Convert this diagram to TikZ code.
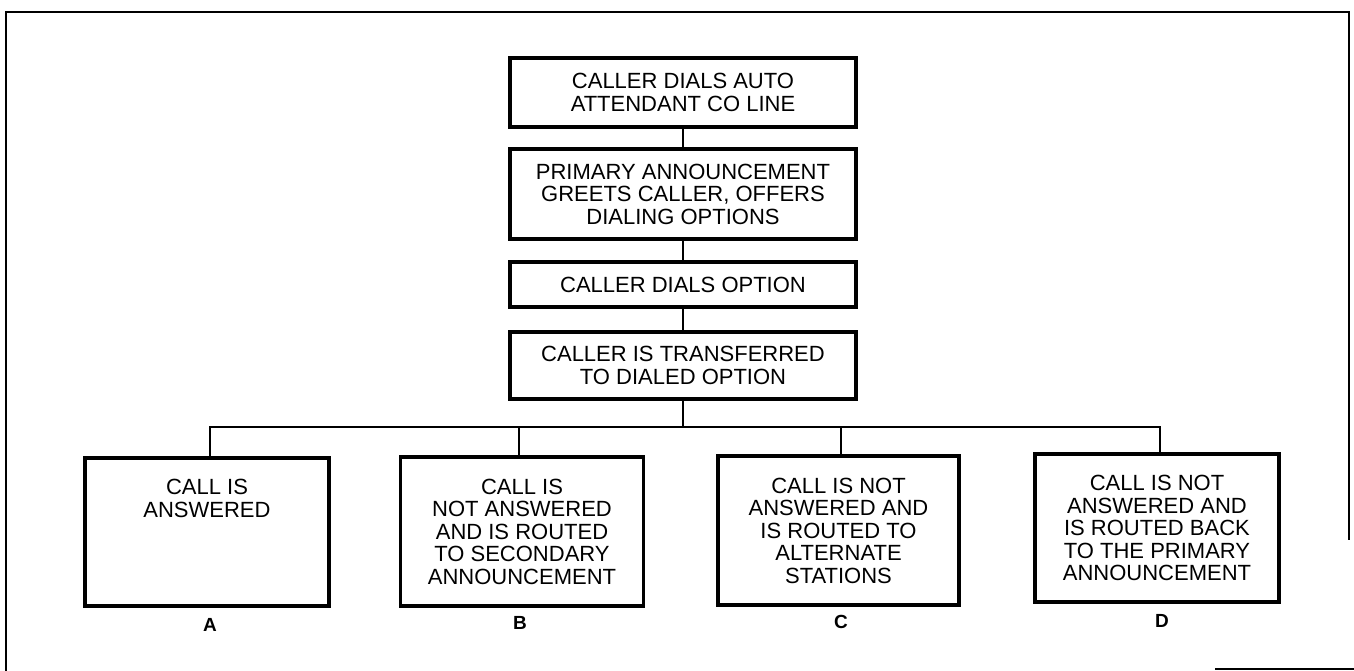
\documentclass[tikz,border=0pt]{standalone}
\usepackage{fontspec}
\setmainfont{Liberation Sans}
\begin{document}
\begin{tikzpicture}[x=1pt,y=-1pt,
  stepbox/.style={draw, line width=3.4pt, fill=white, inner sep=0pt, align=center,
    font=\fontsize{22}{22.5}\selectfont},
  conn/.style={line width=1.5pt},
  lbl/.style={font=\fontsize{19}{20}\selectfont\bfseries, inner sep=0pt},
  frame/.style={line width=2.2pt}]
\useasboundingbox (0,0) rectangle (1354,671);
% frame
\coordinate (f1) at (6,671);
\coordinate (f2) at (6,12);
\coordinate (f3) at (1349,12);
\coordinate (f4) at (1349,540);
\coordinate (f5) at (1215,669);
\coordinate (f6) at (1354,669);
\draw[frame] (f1) -- (f2) -- (f3) -- (f4);
\draw[frame] (f5) -- (f6);
% top chain
\node[stepbox, minimum width=346pt, minimum height=69pt] (b1) at (683,92.5)
  {CALLER DIALS AUTO\\ATTENDANT CO LINE};
\node[stepbox, minimum width=346pt, minimum height=90pt] (b2) at (683,194)
  {PRIMARY ANNOUNCEMENT\\GREETS CALLER, OFFERS\\DIALING OPTIONS};
\node[stepbox, minimum width=346pt, minimum height=45pt] (b3) at (683,284.5)
  {CALLER DIALS OPTION};
\node[stepbox, minimum width=346pt, minimum height=67pt] (b4) at (683,365.5)
  {CALLER IS TRANSFERRED\\TO DIALED OPTION};
\draw[conn] (b1.south) -- (b2.north);
\draw[conn] (b2.south) -- (b3.north);
\draw[conn] (b3.south) -- (b4.north);
% bottom boxes
\node[stepbox, minimum width=244pt, minimum height=148pt] (A) at (207,532)
  {CALL IS\\ANSWERED\\~\\~\\~};
\node[stepbox, minimum width=243pt, minimum height=149pt] (B) at (522,531.5)
  {CALL IS\\NOT ANSWERED\\AND IS ROUTED\\TO SECONDARY\\ANNOUNCEMENT};
\node[stepbox, minimum width=241pt, minimum height=149pt] (C) at (838.5,530.5)
  {CALL IS NOT\\ANSWERED AND\\IS ROUTED TO\\ALTERNATE\\STATIONS};
\node[stepbox, minimum width=244pt, minimum height=148pt] (D) at (1157,528)
  {CALL IS NOT\\ANSWERED AND\\IS ROUTED BACK\\TO THE PRIMARY\\ANNOUNCEMENT};
% bus
\coordinate (jA) at (210,427);
\coordinate (jB) at (519,427);
\coordinate (jC) at (841,427);
\coordinate (jD) at (1160,427);
\draw[conn] (b4.south) -- (b4.south |- jA);
\draw[conn] (jA |- A.north) -- (jA) -- (jD) -- (jD |- D.north);
\draw[conn] (jB) -- (jB |- B.north);
\draw[conn] (jC) -- (jC |- C.north);
% labels
\node[lbl] (lA) at (210,625) {A};
\node[lbl] (lB) at (520,623) {B};
\node[lbl] (lC) at (841,622) {C};
\node[lbl] (lD) at (1162,621) {D};
\end{tikzpicture}
\end{document}
